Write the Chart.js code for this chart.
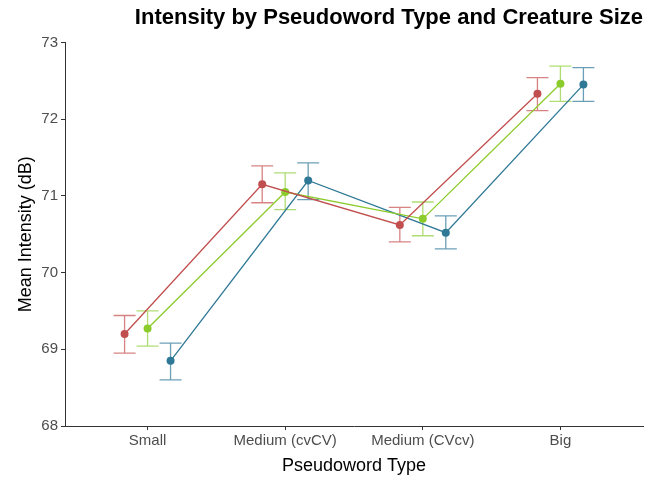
<!DOCTYPE html>
<html lang="en">
<head>
    <meta charset="UTF-8">
    <title>Intensity by Pseudoword Type and Creature Size</title>
    <script src="https://cdn.jsdelivr.net/npm/chart.js"></script>
</head>
<style>
	body{ margin: 0; background: #fff; }
</style>
<body>
    <canvas id="myChart" width="660" height="481"></canvas>

    <script>
        const categories = ['Small', 'Medium (cvCV)', 'Medium (CVcv)', 'Big'];
        const yTicks = [68, 69, 70, 71, 72, 73];

        // three creature-size groups (no legend in the picture)
        const redMean = [69.20, 71.15, 70.62, 72.33];
        const redLow = [68.95, 70.91, 70.40, 72.11];
        const redHigh = [69.44, 71.39, 70.85, 72.54];

        const greenMean = [69.27, 71.05, 70.70, 72.46];
        const greenLow = [69.04, 70.82, 70.48, 72.23];
        const greenHigh = [69.50, 71.30, 70.92, 72.69];

        const blueMean = [68.85, 71.20, 70.52, 72.45];
        const blueLow = [68.60, 70.95, 70.31, 72.23];
        const blueHigh = [69.08, 71.43, 70.74, 72.67];

        const dodge = 0.167;

        function makeSet(label, mean, low, high, shift, color, barColor) {
            return {
                label: label,
                data: mean.map((v, i) => ({ x: i + shift, y: v, lo: low[i], hi: high[i] })),
                showLine: true,
                borderColor: color,
                backgroundColor: color,
                borderWidth: 1.3,
                pointRadius: 4,
                pointHoverRadius: 4,
                pointBorderWidth: 0,
                barColor: barColor
            };
        }

        const errorBars = {
            id: 'errorBars',
            beforeDatasetsDraw(chart) {
                const ctx = chart.ctx;
                const xs = chart.scales.x, ys = chart.scales.y;
                ctx.save();
                chart.data.datasets.forEach(ds => {
                    ctx.strokeStyle = ds.barColor;
                    ctx.lineWidth = 1.3;
                    ds.data.forEach(p => {
                        const x = xs.getPixelForValue(p.x);
                        const y1 = ys.getPixelForValue(p.lo);
                        const y2 = ys.getPixelForValue(p.hi);
                        const w = 11;
                        ctx.beginPath();
                        ctx.moveTo(x, y1); ctx.lineTo(x, y2);
                        ctx.moveTo(x - w, y1); ctx.lineTo(x + w, y1);
                        ctx.moveTo(x - w, y2); ctx.lineTo(x + w, y2);
                        ctx.stroke();
                    });
                });
                ctx.restore();
            }
        };

        const ctx = document.getElementById('myChart').getContext('2d');
        new Chart(ctx, {
            type: 'scatter',
            data: {
                datasets: [
                    makeSet('Red group', redMean, redLow, redHigh, -dodge, '#c24f4f', 'rgba(205,100,100,0.8)'),
                    makeSet('Green group', greenMean, greenLow, greenHigh, 0, '#8ccb2c', 'rgba(155,212,80,0.8)'),
                    makeSet('Blue group', blueMean, blueLow, blueHigh, dodge, '#2f7896', 'rgba(70,135,165,0.8)')
                ]
            },
            plugins: [errorBars],
            options: {
                responsive: false,
                animation: false,
                layout: { padding: { left: 15, right: 17, top: 1, bottom: 4 } },
                plugins: {
                    legend: { display: false },
                    tooltip: { enabled: false },
                    title: {
                        display: true,
                        text: 'Intensity by Pseudoword Type and Creature Size',
                        align: 'end',
                        color: '#000',
                        font: { family: 'Liberation Sans', size: 22, weight: 'bold', lineHeight: 1.2 },
                        padding: { top: 4, bottom: 11 }
                    }
                },
                scales: {
                    x: {
                        type: 'linear',
                        min: -0.6,
                        max: 3.6,
                        afterBuildTicks: s => { s.ticks = categories.map((c, i) => ({ value: i })); },
                        afterFit: s => { s.height = 51; },
                        ticks: {
                            callback: v => categories[v],
                            color: '#4d4d4d',
                            font: { family: 'Liberation Sans', size: 15 },
                            padding: 2,
                            maxRotation: 0
                        },
                        grid: { drawOnChartArea: false, color: '#333', tickLength: 4 },
                        border: { color: '#333', width: 1 },
                        title: {
                            display: true,
                            text: 'Pseudoword Type',
                            color: '#000',
                            font: { family: 'Liberation Sans', size: 18 },
                            padding: { top: 5, bottom: 0 }
                        }
                    },
                    y: {
                        min: 68,
                        max: 73,
                        afterBuildTicks: s => { s.ticks = yTicks.map(v => ({ value: v })); },
                        afterFit: s => { s.width = 50; },
                        ticks: {
                            color: '#4d4d4d',
                            font: { family: 'Liberation Sans', size: 15 },
                            padding: 3
                        },
                        grid: { drawOnChartArea: false, color: '#333', tickLength: 4 },
                        border: { color: '#333', width: 1 },
                        title: {
                            display: true,
                            text: 'Mean Intensity (dB)',
                            color: '#000',
                            font: { family: 'Liberation Sans', size: 18 },
                            padding: { top: 0, bottom: 4 }
                        }
                    }
                }
            }
        });
    </script>
</body>
</html>
